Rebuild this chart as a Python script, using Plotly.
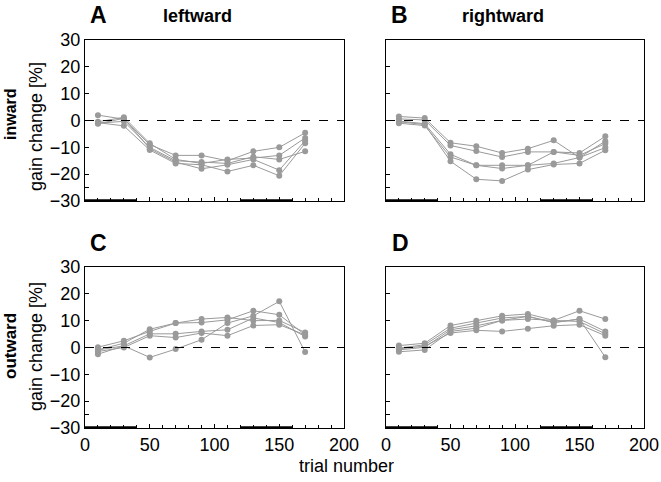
import plotly.graph_objects as go

trials = [10, 30, 50, 70, 90, 110, 130, 150, 170]

# Panel A: inward / leftward
A = [
    [2.0, 0.5, -9.0, -13.0, -13.0, -15.0, -11.5, -10.0, -4.6],
    [-0.5, 1.2, -8.5, -14.5, -16.0, -14.5, -14.0, -13.0, -6.5],
    [-1.0, -0.3, -10.0, -15.0, -15.5, -16.0, -13.5, -14.5, -11.5],
    [-1.2, 0.8, -10.5, -15.5, -18.0, -16.5, -14.5, -18.5, -7.5],
    [-0.8, -2.0, -11.0, -16.0, -16.5, -19.0, -16.7, -20.6, -8.5],
]
# Panel B: inward / rightward
B = [
    [1.5, 0.9, -8.3, -9.6, -12.1, -10.5, -7.4, -13.8, -7.7],
    [0.6, 0.2, -9.3, -11.4, -13.6, -11.7, -11.7, -12.1, -5.9],
    [-0.2, -1.2, -12.6, -16.7, -16.7, -16.7, -11.7, -13.0, -8.6],
    [-1.0, -1.9, -13.6, -16.7, -17.9, -16.7, -16.0, -13.8, -10.1],
    [-0.5, -1.5, -15.2, -21.9, -22.5, -18.3, -16.4, -16.0, -11.1],
]
# Panel C: outward / leftward
C = [
    [-0.9, 1.6, 6.8, 9.1, 10.6, 11.2, 10.0, 10.1, 5.6],
    [0.1, 2.5, 6.0, 9.1, 9.3, 10.3, 13.7, 12.2, 4.7],
    [-2.5, 0.6, 5.1, 5.1, 6.0, 6.6, 11.0, 9.3, 4.1],
    [-1.5, 0.0, 4.4, 3.7, 5.4, 4.4, 8.2, 8.5, 4.7],
    [-0.9, 0.6, -3.7, -0.6, 2.9, 9.1, 11.8, 17.2, -1.7],
]
# Panel D: outward / rightward
D = [
    [0.7, 1.6, 8.2, 10.0, 11.8, 12.5, 10.1, 13.7, 10.6],
    [-0.2, 1.0, 7.2, 9.1, 11.0, 11.6, 9.3, 10.6, 6.0],
    [-0.9, 0.1, 6.6, 8.1, 10.1, 10.6, 10.1, 9.7, 5.1],
    [-1.6, -0.9, 6.0, 7.2, 10.1, 11.6, 9.3, 10.6, -3.6],
    [-0.5, 0.5, 5.4, 6.4, 6.0, 7.0, 8.1, 8.5, 4.4],
]

adapt_blocks = [(0, 40), (120, 160)]
y_ticks = [30, 20, 10, 0, -10, -20, -30]
x_ticks = [0, 50, 100, 150, 200]

W, H = 661, 482
GRAY = "#9a9a9a"
FONT = "Liberation Sans, Arial, sans-serif"

fig = go.Figure()

panels = [
    (A, "x", "y"),
    (B, "x2", "y2"),
    (C, "x3", "y3"),
    (D, "x4", "y4"),
]
for data, xa, ya in panels:
    for s in data:
        fig.add_trace(go.Scatter(
            x=trials, y=s, xaxis=xa, yaxis=ya, mode="lines+markers",
            line=dict(color=GRAY, width=1),
            marker=dict(color=GRAY, size=6),
            showlegend=False, hoverinfo="skip",
        ))

def fx(p):
    return p / W

def fy(p):
    return 1 - p / H

xdom = [[fx(85), fx(344)], [fx(386), fx(644)]]
ydom = [[fy(201), fy(40)], [fy(428), fy(267)]]

def xax(dom, labels, anchor):
    return dict(
        domain=dom, range=[0, 200], anchor=anchor, automargin=False,
        showline=True, mirror=True, linecolor="black", linewidth=1,
        ticks="inside", ticklen=4, tickcolor="black",
        tickvals=x_ticks, showticklabels=labels,
        tickfont=dict(family=FONT, size=18, color="black"),
        minor=dict(dtick=10, tick0=0, ticks="inside", ticklen=3, tickcolor="black"),
        showgrid=False, zeroline=False, fixedrange=True,
    )

def yax(dom, labels, anchor):
    return dict(
        domain=dom, range=[-30, 30], anchor=anchor, automargin=False,
        showline=True, mirror=True, linecolor="black", linewidth=1,
        ticks="inside", ticklen=4, tickcolor="black",
        tickvals=y_ticks, showticklabels=labels,
        tickfont=dict(family=FONT, size=18, color="black"),
        minor=dict(tickvals=[-25], ticks="inside", ticklen=4, tickcolor="black"),
        showgrid=False, zeroline=False, fixedrange=True,
    )

fig.update_layout(
    width=W, height=H, margin=dict(l=0, r=0, t=0, b=0, pad=0),
    plot_bgcolor="white", paper_bgcolor="white",
    font=dict(family=FONT, color="black"),
    xaxis=xax(xdom[0], False, "y"), yaxis=yax(ydom[0], True, "x"),
    xaxis2=xax(xdom[1], False, "y2"), yaxis2=yax(ydom[0], False, "x2"),
    xaxis3=xax(xdom[0], True, "y3"), yaxis3=yax(ydom[1], True, "x3"),
    xaxis4=xax(xdom[1], True, "y4"), yaxis4=yax(ydom[1], False, "x4"),
)

shapes = []
for xa, ya in [("x", "y"), ("x2", "y2"), ("x3", "y3"), ("x4", "y4")]:
    shapes.append(dict(type="line", xref=xa, yref=ya, x0=0, x1=200, y0=0, y1=0,
                       line=dict(color="black", width=1, dash="dash")))
    for b0, b1 in adapt_blocks:
        shapes.append(dict(type="line", xref=xa, yref=ya, x0=b0, x1=b1, y0=-30, y1=-30,
                           line=dict(color="black", width=3.5)))
fig.update_layout(shapes=shapes)

ann = []
def txt(t, x, y, size, bold=False, angle=0):
    ann.append(dict(text=f"<b>{t}</b>" if bold else t, x=fx(x), y=fy(y), xref="paper", yref="paper",
                    showarrow=False, textangle=angle, xanchor="center", yanchor="middle",
                    font=dict(family=FONT, size=size, color="black")))

txt("A", 98, 15, 23, True)
txt("leftward", 197, 16, 18, True)
txt("B", 399, 15, 23, True)
txt("rightward", 503, 16, 18, True)
txt("C", 98, 243, 23, True)
txt("D", 400, 243, 23, True)
txt("inward", 10, 114, 16, True, -90)
txt("gain change [%]", 36, 127, 18, False, -90)
txt("outward", 10, 346, 17, True, -90)
txt("gain change [%]", 36, 347, 18, False, -90)
txt("trial number", 346, 466, 18)
fig.update_layout(annotations=ann)

fig.write_html("out.html",
               config={"displayModeBar": False, "staticPlot": True},
               post_script="document.body.style.margin='0';document.body.style.overflow='hidden';")
